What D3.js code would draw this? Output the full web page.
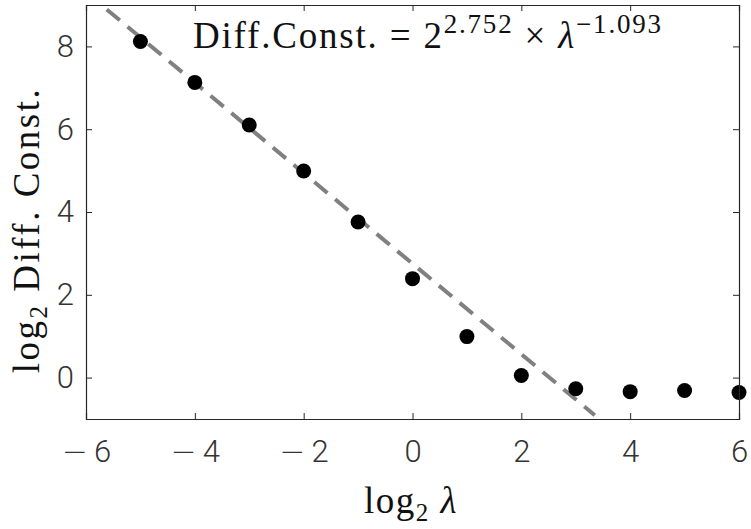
<!DOCTYPE html>
<html>
<head>
<meta charset="utf-8">
<script src="https://d3js.org/d3.v7.min.js"></script>
<style>
  body { margin: 0; background: #fff; }
  .tick text { font-family: Roboto, "DejaVu Sans", sans-serif; font-weight: 300; fill: #333; }
</style>
</head>
<body>
<div id="chart"></div>
<script>
// data
var logLambda = [-5, -4, -3, -2, -1, 0, 1, 2, 3, 4, 5, 6];
var logDiff   = [8.12, 7.13, 6.10, 4.99, 3.76, 2.39, 0.99, 0.05, -0.27, -0.34, -0.31, -0.36];
var fitIntercept = 2.752, fitSlope = -1.093;
var fitRange = [-6, 3.35];
var xTicks = [-6, -4, -2, 0, 2, 4, 6];
var yTicks = [0, 2, 4, 6, 8];

var W = 751, H = 529;
var margin = {top: 5, right: 12, bottom: 110, left: 86};
var width = W - margin.left - margin.right,
    height = H - margin.top - margin.bottom;

var svg = d3.select("#chart").append("svg")
    .attr("width", W).attr("height", H);
var g = svg.append("g")
    .attr("transform", "translate(" + margin.left + "," + margin.top + ")");

var x = d3.scaleLinear().domain([-6, 6]).range([0, width]);
var y = d3.scaleLinear().domain([-1, 9]).range([height, 0]);

g.append("clipPath").attr("id", "clip")
  .append("rect").attr("width", width).attr("height", height);

// fitted dashed line
var fit = fitRange.map(function(v) { return [v, fitIntercept + fitSlope * v]; });
g.append("path")
  .attr("clip-path", "url(#clip)")
  .attr("d", d3.line().x(function(d) { return x(d[0]); }).y(function(d) { return y(d[1]); })(fit))
  .attr("fill", "none")
  .attr("stroke", "#808080")
  .attr("stroke-width", 4)
  .attr("stroke-dasharray", "17,10");

// points
g.selectAll(".dot")
  .data(logLambda.map(function(v, i) { return [v, logDiff[i]]; }))
  .enter().append("circle")
  .attr("cx", function(d) { return x(d[0]); })
  .attr("cy", function(d) { return y(d[1]); })
  .attr("r", 7.5)
  .attr("fill", "#000");

// axes (box with inward ticks)
function style(a) {
  a.select(".domain").attr("stroke", "#262626").attr("stroke-width", 1.2);
  a.selectAll(".tick line").attr("stroke", "#262626");
}
var xAx = g.append("g").attr("transform", "translate(0," + height + ")")
  .call(d3.axisBottom(x).tickValues(xTicks).tickSize(-6).tickPadding(21).tickFormat(""))
  .call(style);
// tick labels with a wider minus sign
xAx.selectAll(".tick text").each(function(d) {
  var t = d3.select(this).attr("font-size", 31).attr("dy", "0.71em");
  if (d < 0) {
    t.append("tspan").attr("font-family", "DejaVu Sans").attr("font-weight", 200).text("\u2212");
    t.append("tspan").attr("dx", 6).text(Math.abs(d));
  } else {
    t.text(d);
  }
});
g.append("g")
  .call(d3.axisTop(x).tickValues(xTicks).tickSize(-6).tickFormat(""))
  .call(style);
g.append("g")
  .call(d3.axisLeft(y).tickValues(yTicks).tickSize(-6).tickPadding(12))
  .call(style)
  .selectAll("text").attr("font-size", 31);
g.append("g").attr("transform", "translate(" + width + ",0)")
  .call(d3.axisRight(y).tickValues(yTicks).tickSize(-6).tickFormat(""))
  .call(style);

// annotation
var ann = svg.append("text")
  .attr("x", 193).attr("y", 48)
  .attr("font-family", "Liberation Serif, serif")
  .attr("font-size", 37).attr("letter-spacing", "1.8px").attr("fill", "#111");
ann.append("tspan").text("Diff.Const. = 2");
ann.append("tspan").attr("font-size", 27).attr("dy", -15).text("2.752");
ann.append("tspan").attr("dy", 15).text("  \u00d7  ");
ann.append("tspan").attr("font-style", "italic").text("\u03bb");
ann.append("tspan").attr("font-size", 27).attr("dy", -15).text("\u22121.093");

// axis labels
var xl = svg.append("text")
  .attr("x", 411).attr("y", 513)
  .attr("text-anchor", "middle")
  .attr("font-family", "Liberation Serif, serif")
  .attr("font-size", 37).attr("letter-spacing", "1.5px").attr("fill", "#111");
xl.append("tspan").text("log");
xl.append("tspan").attr("font-size", 25).attr("dy", 8).text("2");
xl.append("tspan").attr("dy", -8).attr("font-style", "italic").text(" \u03bb");

var yl = svg.append("text")
  .attr("transform", "translate(39,230) rotate(-90)")
  .attr("text-anchor", "middle")
  .attr("font-family", "Liberation Serif, serif")
  .attr("font-size", 37).attr("letter-spacing", "2.5px").attr("fill", "#111");
yl.append("tspan").text("log");
yl.append("tspan").attr("font-size", 25).attr("dy", 8).text("2");
yl.append("tspan").attr("dy", -8).text(" Diff. Const.");
</script>
</body>
</html>
